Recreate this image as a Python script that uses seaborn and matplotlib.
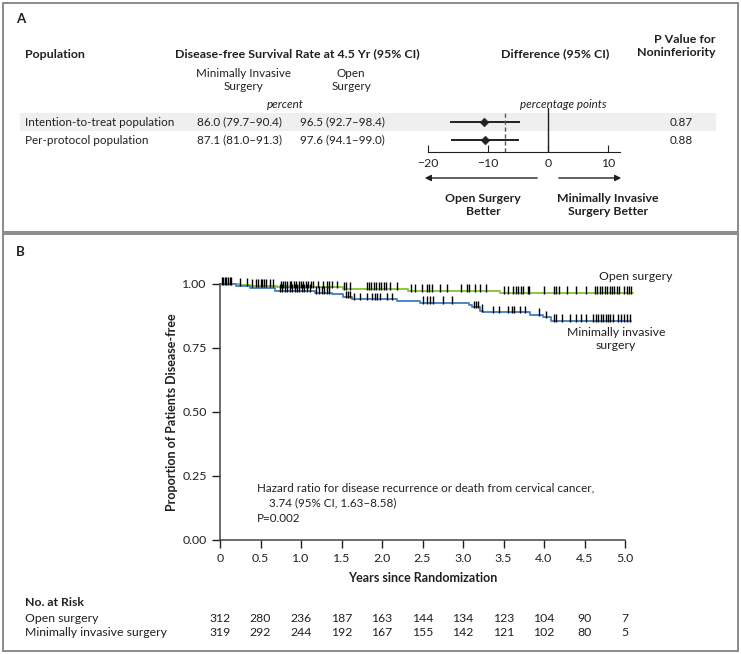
import numpy as np
import pandas as pd
import matplotlib
matplotlib.use("Agg")
import matplotlib.pyplot as plt
import seaborn as sns
from matplotlib.patches import Rectangle, FancyArrowPatch

sns.set_style("ticks")
plt.rcParams["font.family"] = ["Lato", "DejaVu Sans"]

# ---- panel A data
populations = ["Intention-to-treat population", "Per-protocol population"]
mis_rate = ["86.0 (79.7\u201390.4)", "87.1 (81.0\u201391.3)"]
open_rate = ["96.5 (92.7\u201398.4)", "97.6 (94.1\u201399.0)"]
diff = [-10.6, -10.5]
diff_lo = [-16.4, -16.1]
diff_hi = [-4.7, -4.9]
p_noninf = ["0.87", "0.88"]
margin = -7.2

# ---- panel B data (Kaplan-Meier steps)
open_t = [0.0, 0.23, 0.37, 0.70, 1.52, 2.32, 3.46, 5.10]
open_s = [1.000, 0.996, 0.992, 0.987, 0.980, 0.974, 0.965, 0.965]
mis_t = [0.0, 0.20, 0.37, 0.68, 1.17, 1.38, 1.52, 1.63, 2.18, 2.47, 3.07, 3.11,
         3.21, 3.25, 3.83, 3.99, 4.09, 5.08]
mis_s = [1.000, 0.991, 0.984, 0.974, 0.966, 0.961, 0.948, 0.940, 0.935, 0.926,
         0.918, 0.909, 0.896, 0.889, 0.880, 0.870, 0.855, 0.855]

open_cens = [0.02, 0.04, 0.06, 0.08, 0.10, 0.12, 0.14, 0.25, 0.33, 0.39, 0.44, 0.47,
             0.50, 0.52, 0.54, 0.57, 0.62, 0.66, 0.75, 0.78, 0.80, 0.83, 0.86, 0.88,
             0.91, 0.94, 0.97, 1.00, 1.03, 1.06, 1.09, 1.12, 1.15, 1.21, 1.27, 1.32,
             1.35, 1.38, 1.44, 1.53, 1.56, 1.60, 1.81, 1.84, 1.87, 1.90, 1.93, 1.96,
             1.99, 2.02, 2.05, 2.10, 2.18, 2.36, 2.41, 2.49, 2.55, 2.58, 2.62, 2.71,
             2.80, 2.98, 3.05, 3.08, 3.15, 3.21, 3.29, 3.50, 3.56, 3.62, 3.65, 3.68,
             3.71, 3.74, 3.80, 3.82, 4.00, 4.12, 4.15, 4.18, 4.28, 4.40, 4.52, 4.63,
             4.66, 4.69, 4.72, 4.75, 4.78, 4.81, 4.84, 4.87, 4.90, 4.93, 4.99, 5.02,
             5.05, 5.08]
mis_cens = [0.74, 0.77, 0.80, 0.83, 0.86, 0.89, 0.92, 0.95, 0.98, 1.01, 1.04, 1.08,
            1.11, 1.19, 1.22, 1.26, 1.29, 1.32, 1.35, 1.55, 1.58, 1.61, 1.66, 1.73,
            1.81, 1.88, 1.91, 1.94, 1.97, 2.06, 2.12, 2.51, 2.55, 2.59, 2.63, 2.75,
            2.86, 3.13, 3.16, 3.19, 3.23, 3.37, 3.45, 3.56, 3.60, 3.63, 3.70, 3.77,
            3.94, 4.03, 4.12, 4.15, 4.22, 4.32, 4.40, 4.46, 4.52, 4.61, 4.64, 4.67,
            4.70, 4.73, 4.76, 4.79, 4.82, 4.85, 4.91, 4.95, 4.99, 5.03, 5.06]

risk_times = [0, 0.5, 1.0, 1.5, 2.0, 2.5, 3.0, 3.5, 4.0, 4.5, 5.0]
risk_open = [312, 280, 236, 187, 163, 144, 134, 123, 104, 90, 7]
risk_mis = [319, 292, 244, 192, 167, 155, 142, 121, 102, 80, 5]

GREEN = "#8dc63f"
BLUE = "#4f86c6"
INK = "#231f20"
W, H = 741, 654


def fx(px):
    return px / W


def fy(py):
    return 1 - py / H


fig = plt.figure(figsize=(W / 100, H / 100), dpi=100)
fs = 8.4
hfs = 8.9


def txt(x, y, s, **kw):
    kw.setdefault("fontsize", fs)
    kw.setdefault("va", "center")
    kw.setdefault("color", INK)
    fig.text(fx(x), fy(y), s, **kw)


# frames
for y0, y1 in [(3, 232), (234, 651)]:
    fig.add_artist(Rectangle((fx(3), fy(y1)), fx(738) - fx(3), fy(y0) - fy(y1),
                             transform=fig.transFigure, fill=False,
                             edgecolor="#8a8a8a", lw=1.4))

# ---- panel A
txt(16, 19, "A", fontweight="bold", fontsize=9.5)
txt(25, 54, "Population", fontweight="bold", fontsize=hfs)
txt(175, 54, "Disease-free Survival Rate at 4.5 Yr (95% CI)", fontweight="bold",
    fontsize=hfs)
txt(555, 54, "Difference (95% CI)", fontweight="bold", ha="center", fontsize=hfs)
txt(716, 46, "P Value for\nNoninferiority", fontweight="bold", ha="right",
    linespacing=1.3, fontsize=hfs)
txt(243, 80, "Minimally Invasive\nSurgery", ha="center", linespacing=1.25)
txt(351, 80, "Open\nSurgery", ha="center", linespacing=1.25)
txt(285, 105, "percent", ha="center", style="italic")
txt(563, 105, "percentage points", ha="center", style="italic")

fig.add_artist(Rectangle((fx(20), fy(131)), fx(716) - fx(20), fy(113) - fy(131),
                         transform=fig.transFigure, color="#efefef", lw=0,
                         zorder=-1))
row_y = [122, 140]
for i in range(2):
    txt(25, row_y[i], populations[i])
    txt(197, row_y[i], mis_rate[i])
    txt(300, row_y[i], open_rate[i])
    txt(693, row_y[i], p_noninf[i], ha="right")

axf = fig.add_axes([fx(428), fy(152), fx(620) - fx(428), fy(108) - fy(152)])
axf.patch.set_alpha(0)
forest = pd.DataFrame({"row": [1, 0], "diff": diff, "lo": diff_lo, "hi": diff_hi})
axf.hlines(forest["row"], forest["lo"], forest["hi"], color=INK, lw=1.4)
sns.scatterplot(data=forest, x="diff", y="row", ax=axf, color=INK, s=20,
                marker="D", edgecolor=INK, zorder=3, legend=False)
axf.axvline(0, color=INK, lw=1.0)
axf.vlines(margin, -0.67, 1.5, color="#555555", lw=1.0, linestyles=(0, (3, 2)))
axf.set_xlim(-20, 12)
axf.set_ylim(-0.667, 1.778)
axf.set_yticks([])
axf.set_xticks([-20, -10, 0, 10])
axf.set_xticklabels(["\u221220", "\u221210", "0", "10"])
axf.tick_params(axis="x", direction="in", length=5, labelsize=8.8, colors=INK, pad=4)
for sp in ["left", "right", "top"]:
    axf.spines[sp].set_visible(False)
axf.spines["bottom"].set_color(INK)
axf.set_xlabel("")
axf.set_ylabel("")

for x0, x1 in [(540, 422), (556, 624)]:
    fig.add_artist(FancyArrowPatch((fx(x0), fy(178)), (fx(x1), fy(178)),
                                   transform=fig.transFigure, arrowstyle="-|>",
                                   mutation_scale=9, color=INK, lw=1.0))
txt(483, 205, "Open Surgery\nBetter", ha="center", fontweight="bold",
    fontsize=8.8, linespacing=1.3)
txt(608, 205, "Minimally Invasive\nSurgery Better", ha="center",
    fontweight="bold", fontsize=8.8, linespacing=1.3)

# ---- panel B
txt(16, 252, "B", fontweight="bold", fontsize=9.5)
ax = fig.add_axes([fx(220), fy(540), fx(625) - fx(220), fy(284) - fy(540)])
ax.patch.set_alpha(0)

km = pd.concat([
    pd.DataFrame({"t": open_t, "s": open_s, "arm": "Open surgery"}),
    pd.DataFrame({"t": mis_t, "s": mis_s, "arm": "Minimally invasive surgery"}),
])
sns.lineplot(data=km, x="t", y="s", hue="arm", estimator=None, sort=True,
             palette={"Open surgery": GREEN, "Minimally invasive surgery": BLUE},
             drawstyle="steps-post", lw=1.4, ax=ax, legend=False, clip_on=False)


def surv_at(times, tt, ss):
    idx = np.searchsorted(np.array(tt), np.array(times), side="right") - 1
    return np.array(ss)[idx]


for cens, tt, ss in [(mis_cens, mis_t, mis_s), (open_cens, open_t, open_s)]:
    yy = surv_at(cens, tt, ss)
    ax.vlines(cens, yy - 0.004, yy + 0.026, color="black", lw=1.0, clip_on=False,
              zorder=4)

ax.set_xlim(0, 5)
ax.set_ylim(0, 1)
ax.set_xticks(risk_times)
ax.set_xticklabels(["0"] + [f"{v:.1f}" for v in risk_times[1:]])
ax.set_yticks([0, 0.25, 0.5, 0.75, 1.0])
ax.set_yticklabels(["0.00", "0.25", "0.50", "0.75", "1.00"])
ax.tick_params(length=6, labelsize=8.9, colors=INK, width=1.0)
sns.despine(ax=ax)
for sp in ["left", "bottom"]:
    ax.spines[sp].set_color("#444444")
    ax.spines[sp].set_linewidth(1.1)
ax.set_xlabel("")
ax.set_ylabel("")

txt(423, 578, "Years since Randomization", ha="center", fontweight="bold",
    fontsize=9)
txt(172, 412, "Proportion of Patients Disease-free", ha="center",
    fontweight="bold", fontsize=9, rotation=90)
txt(636, 276, "Open surgery", ha="center", fontsize=8.8)
txt(616, 339, "Minimally invasive\nsurgery", ha="center", fontsize=8.8,
    linespacing=1.25)
txt(257, 488, "Hazard ratio for disease recurrence or death from cervical cancer,")
txt(269, 503, "3.74 (95% CI, 1.63\u20138.58)")
txt(257, 519, "P=0.002")

txt(25, 603, "No. at Risk", fontweight="bold", fontsize=8.8)
txt(25, 618, "Open surgery", fontsize=8.8)
txt(25, 633, "Minimally invasive surgery", fontsize=8.8)
for t, a, b in zip(risk_times, risk_open, risk_mis):
    xpx = 220 + 81 * t
    txt(xpx, 618, str(a), ha="center", fontsize=8.8)
    txt(xpx, 633, str(b), ha="center", fontsize=8.8)

fig.savefig("out.png", dpi=100)
